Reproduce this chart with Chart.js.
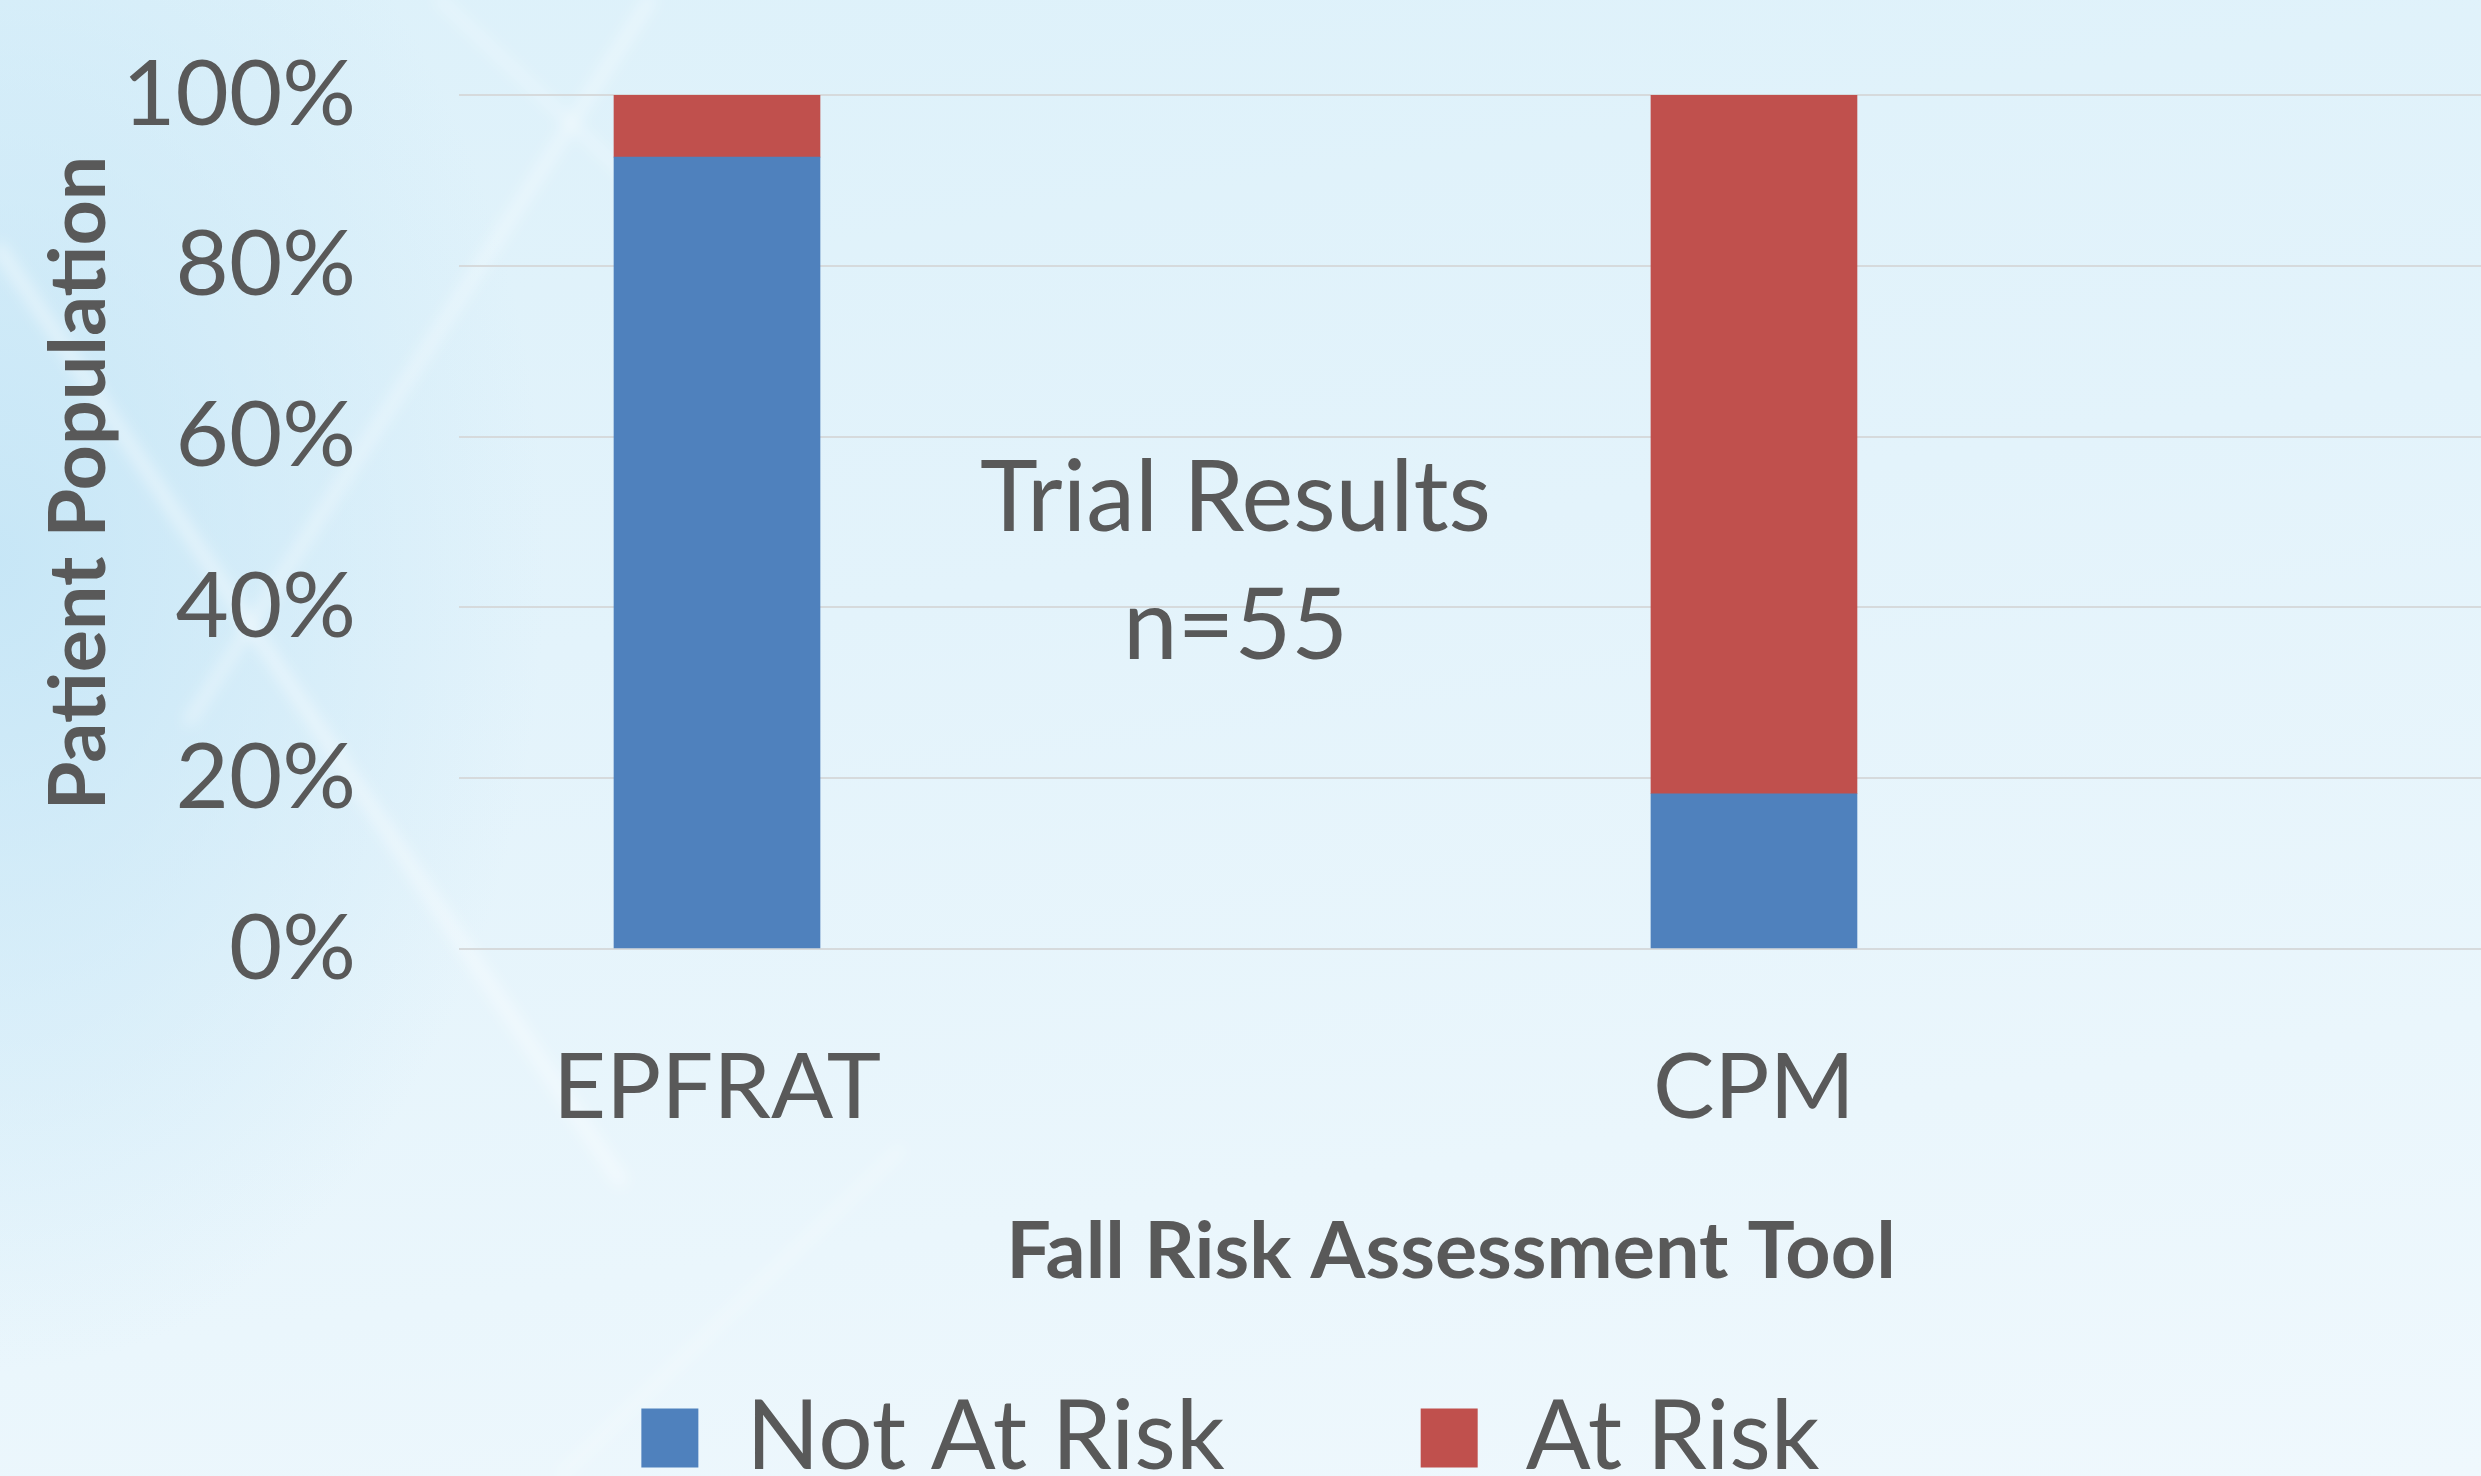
<!DOCTYPE html>
<html>
<head>
<meta charset="utf-8">
<script src="https://cdn.jsdelivr.net/npm/chart.js@4.4.1/dist/chart.umd.min.js"></script>
<style>
  html, body { margin: 0; padding: 0; overflow: hidden; }
  body {
    width: 2481px; height: 1476px;
    background:
      url("data:image/svg+xml;utf8,<svg xmlns='http://www.w3.org/2000/svg' width='2481' height='1476'><defs><filter id='b' x='-20%' y='-20%' width='140%' height='140%'><feGaussianBlur stdDeviation='7'/></filter></defs><g stroke='white' stroke-linecap='round' filter='url(%23b)'><line x1='0' y1='250' x2='620' y2='1180' stroke-width='14' stroke-opacity='0.4'/><line x1='650' y1='0' x2='190' y2='720' stroke-width='12' stroke-opacity='0.35'/><line x1='440' y1='0' x2='780' y2='320' stroke-width='10' stroke-opacity='0.3'/><line x1='560' y1='1476' x2='900' y2='1150' stroke-width='10' stroke-opacity='0.25'/></g></svg>") no-repeat 0 0,
      radial-gradient(ellipse 22% 55% at 0% 38%, rgba(196,229,246,0.9) 0%, rgba(196,229,246,0) 100%),
      linear-gradient(172deg, #ddf1fa 0%, #e3f3fb 40%, #eaf6fc 75%, #eff8fd 100%);
  }
  #wrap { position: absolute; left: 0; top: 0; width: 2481px; height: 1476px; }
</style>
</head>
<body>
<div id="wrap"><canvas id="c"></canvas></div>
<script>
// ---- data ----
const categories = ['EPFRAT', 'CPM'];
const seriesNames = ['Not At Risk', 'At Risk'];
const notAtRisk = [92.73, 18.18];
const atRisk = [7.27, 81.82];
const yTickValues = [0, 20, 40, 60, 80, 100];
const annotationLines = ['Trial Results', 'n=55'];
const xAxisTitle = 'Fall Risk Assessment Tool';
const yAxisTitle = 'Patient Population';

// ---- styling ----
const FONT = 'Lato, "Open Sans", sans-serif';
const TEXT = '#595959';
const BLUE = '#4f81bd';
const RED = '#c0504d';

const toPoints = arr => arr.map((v, i) => ({ x: i, y: v }));

const annotationPlugin = {
  id: 'annot',
  afterDatasetsDraw(chart) {
    const { ctx, scales } = chart;
    const x = scales.x.getPixelForValue(0.5);
    const ys = [49, 34];
    ctx.save();
    ctx.fillStyle = TEXT;
    ctx.font = '98px ' + FONT;
    ctx.textAlign = 'center';
    ctx.textBaseline = 'alphabetic';
    annotationLines.forEach((t, i) => ctx.fillText(t, x, scales.y.getPixelForValue(ys[i])));
    ctx.restore();
  }
};

// nudge the axis titles and legend slightly off centre (as in the original)
const titleShift = {
  id: 'titleShift',
  afterLayout(chart) {
    const lg = chart.legend;
    if (lg) { lg.left -= 10; lg.right -= 10; }
  },
  beforeDraw(chart) {
    const y = chart.scales.y;
    if (y && !y._titlePatched) {
      const origY = y.drawTitle;
      y.drawTitle = function () {
        const t = this.top;
        this.top = t - 78;
        origY.call(this);
        this.top = t;
      };
      y._titlePatched = true;
    }
    const x = chart.scales.x;
    if (x && !x._titlePatched) {
      const origX = x.drawTitle;
      x.drawTitle = function () {
        const r = this.right;
        this.right = r - 38;
        origX.call(this);
        this.right = r;
      };
      x._titlePatched = true;
    }
  }
};

new Chart(document.getElementById('c'), {
  type: 'bar',
  data: {
    datasets: [
      { label: seriesNames[0], data: toPoints(notAtRisk), backgroundColor: BLUE, barThickness: 206 },
      { label: seriesNames[1], data: toPoints(atRisk), backgroundColor: RED, barThickness: 206 }
    ]
  },
  options: {
    responsive: true,
    maintainAspectRatio: false,
    animation: false,
    layout: { padding: { top: 95, right: 0, bottom: -20, left: 0 } },
    plugins: {
      legend: {
        position: 'bottom',
        labels: {
          color: TEXT,
          font: { family: FONT, size: 96 },
          boxWidth: 57,
          boxHeight: 59,
          padding: 196
        }
      },
      tooltip: { enabled: false }
    },
    scales: {
      x: {
        type: 'linear',
        stacked: true,
        offset: false,
        min: -0.2488,
        max: 1.7011,
        afterBuildTicks: s => { s.ticks = categories.map((c, i) => ({ value: i })); },
        afterFit: s => { s.height = 245; },
        ticks: {
          color: TEXT,
          font: { family: FONT, size: 92 },
          padding: 84,
          callback: v => categories[v]
        },
        grid: { display: false, drawTicks: false, offset: false },
        border: { display: false },
        title: {
          display: true,
          text: xAxisTitle,
          color: TEXT,
          font: { family: FONT, size: 79, weight: 'bold' },
          padding: { top: 0, bottom: -106 }
        }
      },
      y: {
        stacked: true,
        min: 0,
        max: 100,
        afterBuildTicks: s => { s.ticks = yTickValues.map(v => ({ value: v })); },
        afterFit: s => { s.width = 459; s.paddingTop = 0; s.paddingBottom = 0; },
        ticks: {
          color: TEXT,
          font: { family: FONT, size: 92 },
          padding: 103,
          callback: v => v + '%'
        },
        grid: { color: '#d6dadc', lineWidth: 2, drawTicks: false },
        border: { display: false },
        title: {
          display: true,
          text: yAxisTitle,
          color: TEXT,
          font: { family: FONT, size: 79, weight: 'bold' },
          padding: { top: 32, bottom: 0 }
        }
      }
    }
  },
  plugins: [annotationPlugin, titleShift]
});
</script>
</body>
</html>
